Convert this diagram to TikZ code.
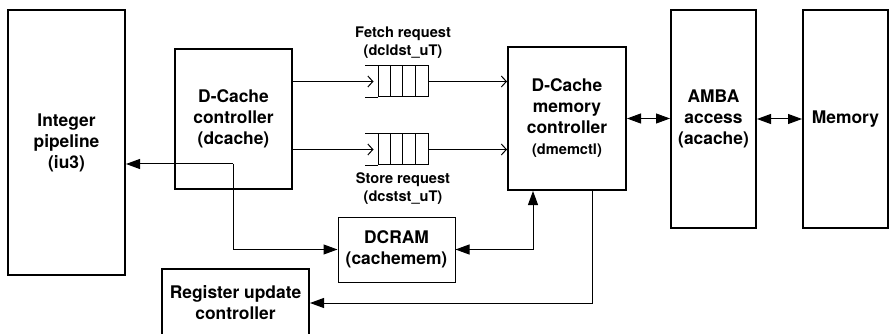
\documentclass[tikz,border=0pt]{standalone}
\usepackage{fontspec}
\setmainfont{TeX Gyre Heros}
\usetikzlibrary{arrows.meta, positioning}
\tikzstyle{block} = [rectangle, draw=black, line width=2pt, align=center, inner sep=0pt, font=\fontsize{17.4}{21}\selectfont\bfseries]
\tikzstyle{thinblock} = [block, line width=1pt]
\tikzstyle{queue} = [rectangle, draw=black, line width=1pt, minimum width=50pt, minimum height=31pt, inner sep=0pt]
\tikzstyle{lbl} = [align=center, font=\fontsize{14.6}{18}\selectfont\bfseries]
\tikzstyle{arrow} = [line width=1pt, -{Triangle[length=14pt,width=10pt]}]
\tikzstyle{dblarrow} = [line width=1pt, {Triangle[length=14pt,width=10pt]}-{Triangle[length=14pt,width=10pt]}]
\tikzstyle{openarrow} = [line width=1pt, -{Straight Barb[length=5pt,width=11pt]}]

\begin{document}
\begin{tikzpicture}[x=1pt, y=-1pt]
\useasboundingbox (0,0) rectangle (889,334);

% Pipeline and cache controller
\node (iu3) [block, minimum width=117pt, minimum height=265pt] at (66.5,142.5) {Integer\\pipeline\\(iu3)};
\node (dcache) [block, minimum width=117pt, minimum height=140pt] at (233.5,119) {D-Cache\\controller\\(dcache)};

% Request queues
\node (fetchq) [queue] at (403,81.5) {};
\node (storeq) [queue, below=36pt of fetchq] {};
\node (fetchlbl) [lbl, above=4pt of fetchq] {Fetch request\\(dcldst\_uT)};
\node (storelbl) [lbl, below=4pt of storeq] {Store request\\(dcstst\_uT)};
\foreach \q in {fetchq, storeq} {
  \draw [line width=1pt] (\q.north west) -- ++(-13,0);
  \draw [line width=1pt] (\q.south west) -- ++(-13,0);
  \foreach \i in {1,2,3}
    \draw [line width=1pt] ([xshift=\i*12.5pt]\q.north west) -- ([xshift=\i*12.5pt]\q.south west);
}

% Memory side
\node (dmemctl) [block, minimum width=118pt, minimum height=143pt] at (567,118.5) {D-Cache\\memory\\controller\\{\fontsize{14.6}{18}\selectfont(dmemctl)}};
\node (acache) [block, minimum width=85pt, minimum height=218pt] at (713.5,119) {AMBA\\access\\(acache)};
\node (memory) [block, minimum width=85pt, minimum height=218pt] at (845.5,119) {Memory};

% Lower blocks
\node (dcram) [thinblock, minimum width=117pt, minimum height=65pt] at (396.5,249.5) {DCRAM\\(cachemem)};
\node (regupd) [block, minimum width=147pt, minimum height=68pt] at (235.5,303) {Register update\\controller};

% Arrows
\coordinate (jn) at (233,164);
\draw [arrow] (jn) -- (iu3.east |- jn);
\draw [arrow] (jn) |- (dcram.west);
\draw [openarrow] (dcache.east |- fetchq) -- ([xshift=-4pt]fetchq.west);
\draw [openarrow] (dcache.east |- storeq) -- ([xshift=-4pt]storeq.west);
\draw [openarrow] (fetchq.east) -- (dmemctl.west |- fetchq);
\draw [openarrow] (storeq.east) -- (dmemctl.west |- storeq);
\draw [dblarrow] (dcram.east) -| ([xshift=-34pt]dmemctl.south);
\draw [arrow] ([xshift=25pt]dmemctl.south) |- (regupd.east);
\draw [dblarrow] (dmemctl.east) -- (acache.west |- dmemctl.east);
\draw [dblarrow] (acache.east) -- (memory.west);

\end{tikzpicture}
\end{document}
